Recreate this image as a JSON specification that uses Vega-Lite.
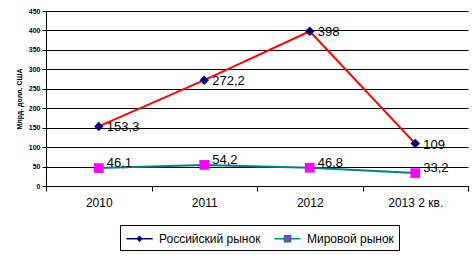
{
  "$schema": "https://vega.github.io/schema/vega-lite/v6.json",
  "width": 422,
  "height": 175,
  "autosize": "none",
  "padding": {"left": 46, "top": 11, "right": 7, "bottom": 74},
  "config": {
    "font": "Liberation Sans",
    "view": {"stroke": null},
    "locale": {"number": {"decimal": ",", "thousands": " ", "grouping": [3], "currency": ["", ""]}}
  },
  "data": {
    "values": [
      {"year": "2010", "series": "Российский рынок", "value": 153.3},
      {"year": "2011", "series": "Российский рынок", "value": 272.2},
      {"year": "2012", "series": "Российский рынок", "value": 398},
      {"year": "2013 2 кв.", "series": "Российский рынок", "value": 109},
      {"year": "2010", "series": "Мировой рынок", "value": 46.1},
      {"year": "2011", "series": "Мировой рынок", "value": 54.2},
      {"year": "2012", "series": "Мировой рынок", "value": 46.8},
      {"year": "2013 2 кв.", "series": "Мировой рынок", "value": 33.2}
    ]
  },
  "encoding": {
    "x": {
      "field": "year",
      "type": "nominal",
      "sort": null,
      "scale": {"type": "band", "paddingInner": 0, "paddingOuter": 0},
      "axis": {
        "title": null,
        "labelAngle": 0,
        "tickBand": "extent",
        "domainColor": "black",
        "tickColor": "black",
        "tickSize": 5,
        "labelFontSize": 12,
        "labelColor": "black",
        "labelPadding": 6,
        "grid": false
      }
    },
    "y": {
      "field": "value",
      "type": "quantitative",
      "scale": {"domain": [0, 450], "nice": false},
      "axis": {
        "title": "Млрд. долл. США",
        "values": [0, 50, 100, 150, 200, 250, 300, 350, 400, 450],
        "grid": true,
        "gridColor": "black",
        "gridOpacity": 1,
        "gridWidth": 1,
        "domainColor": "black",
        "tickColor": "black",
        "tickSize": 4,
        "labelFontSize": 7,
        "labelFontWeight": "bold",
        "labelColor": "black",
        "labelPadding": 2,
        "titleFontSize": 7,
        "titleFontWeight": "bold",
        "titleColor": "black",
        "titlePadding": 6
      }
    }
  },
  "layer": [
    {
      "transform": [{"filter": "datum.series === 'Мировой рынок'"}],
      "mark": {"type": "line", "strokeWidth": 2, "color": "#008080"},
      "encoding": {}
    },
    {
      "transform": [{"filter": "datum.series === 'Российский рынок'"}],
      "mark": {"type": "line", "strokeWidth": 2, "color": "#FF0000"},
      "encoding": {}
    },
    {
      "transform": [{"filter": "false"}],
      "mark": {"type": "point", "filled": true, "opacity": 1},
      "encoding": {
        "shape": {
          "field": "series",
          "type": "nominal",
          "scale": {
            "domain": ["Российский рынок", "Мировой рынок"],
            "range": ["M-1.75,0H1.75M0,-0.3L0.3,0L0,0.3L-0.3,0Z", "M-1.75,0H-0.4M0.4,0H1.75M-0.4,-0.4H0.4V0.4H-0.4Z"]
          },
          "legend": {
            "title": null,
            "orient": "none",
            "legendX": 74,
            "legendY": 214,
            "direction": "horizontal",
            "strokeColor": "black",
            "padding": 5,
            "labelFontSize": 12,
            "labelColor": "black",
            "symbolSize": 225,
            "symbolStrokeWidth": 1.5,
            "symbolOpacity": 1,
            "labelOffset": 11,
            "symbolOffset": 6,
            "columnPadding": 10
          }
        },
        "fill": {
          "field": "series",
          "type": "nominal",
          "scale": {"domain": ["Российский рынок", "Мировой рынок"], "range": ["#000080", "#FF00FF"]}
        },
        "stroke": {
          "field": "series",
          "type": "nominal",
          "scale": {"domain": ["Российский рынок", "Мировой рынок"], "range": ["#000080", "#008080"]}
        }
      }
    },
    {
      "transform": [{"filter": "datum.series === 'Российский рынок'"}],
      "mark": {"type": "point", "shape": "diamond", "filled": true, "opacity": 1, "size": 90, "color": "#000080"}
    },
    {
      "transform": [{"filter": "datum.series === 'Мировой рынок'"}],
      "mark": {"type": "point", "shape": "square", "filled": true, "opacity": 1, "size": 95, "color": "#FF00FF"}
    },
    {
      "transform": [{"filter": "datum.series === 'Российский рынок'"}],
      "mark": {"type": "text", "align": "left", "baseline": "middle", "dx": 8, "dy": 1, "fontSize": 13, "color": "black"},
      "encoding": {"text": {"field": "value", "type": "quantitative", "format": "~f"}}
    },
    {
      "transform": [{"filter": "datum.series === 'Мировой рынок'"}],
      "mark": {"type": "text", "align": "left", "baseline": "middle", "dx": 8, "dy": -5, "fontSize": 13, "color": "black"},
      "encoding": {"text": {"field": "value", "type": "quantitative", "format": "~f"}}
    }
  ]
}
